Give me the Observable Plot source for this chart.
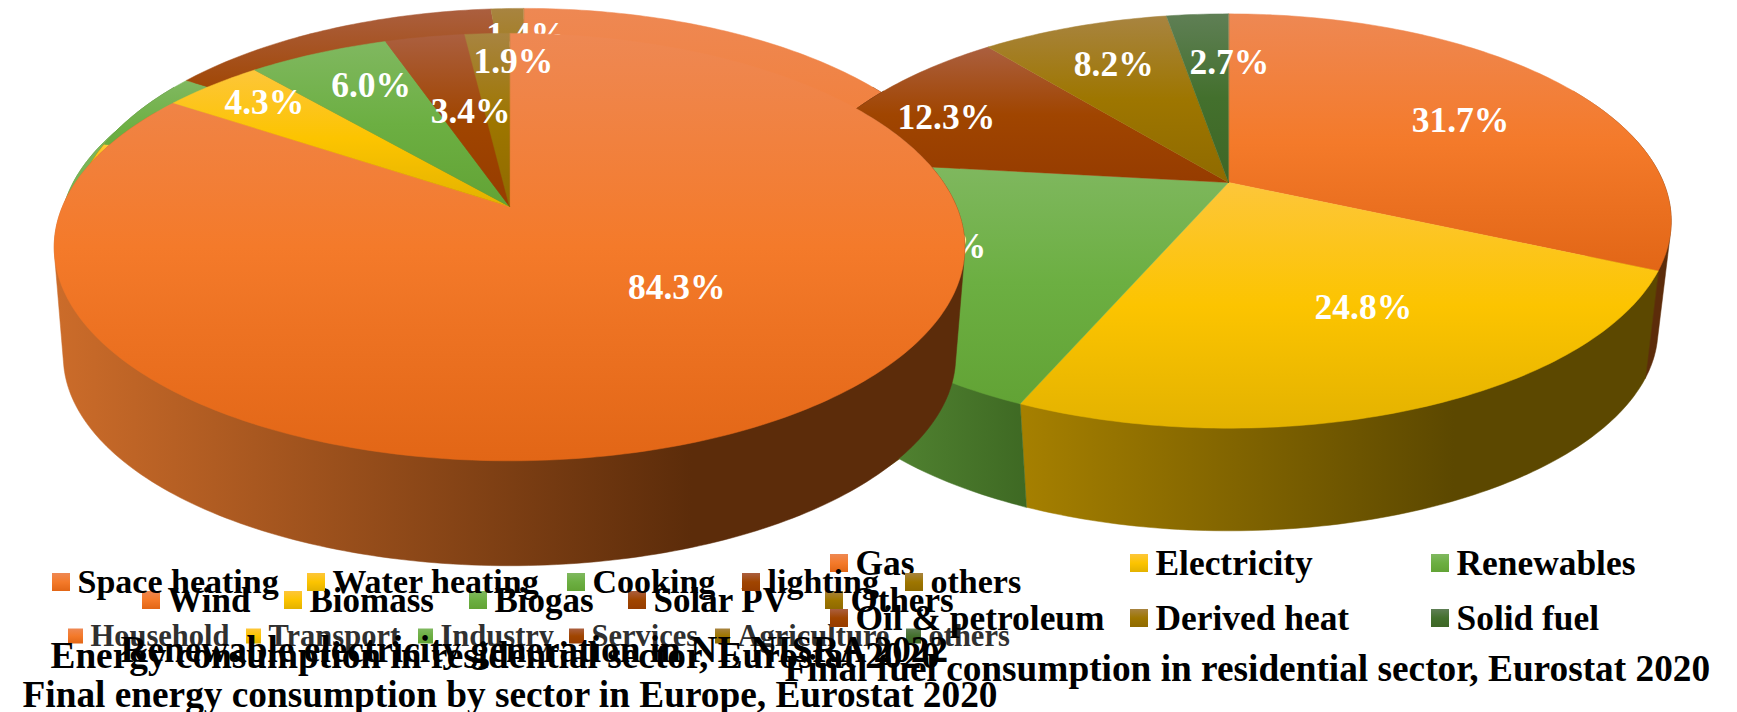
<!DOCTYPE html>
<html>
<head>
<meta charset="utf-8">
<style>html,body{margin:0;padding:0;background:#fff}svg{display:block}</style>
<script src="https://cdn.jsdelivr.net/npm/d3@7"></script>
<script src="https://cdn.jsdelivr.net/npm/@observablehq/plot@0.6"></script>
</head>
<body>
<div id="chart"></div>
<script>
// Shares (percent) per pie, clockwise from twelve o'clock
const sectorNames = ["Household", "Transport", "Industry", "Services", "Agriculture", "others"];
const sectorShares = [27.4, 28.4, 26.1, 13.9, 3.1, 1.1];
const renewableNames = ["Wind", "Biomass", "Biogas", "Solar PV", "Others"];
const renewableShares = [75.0, 3.0, 6.1, 14.5, 1.4];
const fuelNames = ["Gas", "Electricity", "Renewables", "Oil & petroleum", "Derived heat", "Solid fuel"];
const fuelShares = [31.7, 24.8, 20.3, 12.3, 8.2, 2.7];
const residentialNames = ["Space heating", "Water heating", "Cooking", "lighting", "others"];
const residentialShares = [84.3, 4.3, 6.0, 3.4, 1.9];

const sectorTitle = "Final energy consumption by sector in Europe, Eurostat 2020";
const renewableTitle = "Renewable electricity generation in NI, NISRA 2022";
const fuelTitle = "Final fuel consumption in residential sector, Eurostat 2020";
const residentialTitle = "Energy consumption in residential sector, Eurostat 2020";

// Slice fills: face gradient (tint, base, shade) and side gradient (light, dark, where dark is reached)
const faceTones = [
  ["#EE8853", "#F47A2A", "#E26616"],
  ["#FDC63A", "#FCC400", "#E3B200"],
  ["#80B860", "#6CAF42", "#62A335"],
  ["#AB5F3F", "#A04500", "#963C00"],
  ["#A88440", "#9E7600", "#8F6A00"],
  ["#5F7F55", "#43702D", "#3E6625"]
];
const sideTones = [
  ["#CC6C2A", "#5C2C0A", 0.7],
  ["#A68000", "#5C4800", 0.68],
  ["#5F963B", "#3E6923", 1],
  ["#8A4210", "#4E2206", 0.68],
  ["#806000", "#4A3800", 0.68],
  ["#3E6028", "#263C18", 0.68]
];

const FONT = "Liberation Serif";

// Perspective of each pie: apex, half axes, foreshortening, depth of the base ring
const pieViews = {
  sector: {cx: 520, cy: 192, A: 452, B: 206, k: 0.19, baseCy: 305, baseScale: 0.98},
  renewable: {cx: 523, cy: 181, A: 442, B: 206, k: 0.19, baseCy: 291, baseScale: 0.98},
  fuel: {cx: 1228, cy: 182, A: 435, B: 200, k: 0.186, baseCy: 292, baseScale: 0.97},
  residential: {cx: 509, cy: 206, A: 447, B: 206, k: 0.19, baseCy: 316, baseScale: 0.98}
};

// Value label placement: direction in degrees and fraction of the radius
const renewableLabelSpots = [null, null, null, null, [0.5, 0.82]];
const fuelLabelSpots = [[59.8, 0.655], [153.6, 0.625], [244.4, 0.70], [296.6, 0.772], [335.9, 0.726], [0.2, 0.676]];
const residentialLabelSpots = [[136.4, 0.505], [312.6, 0.824], [332.2, 0.747], [349.3, 0.514], [0.7, 0.813]];

function project(view, degrees, radius = 1, base = false) {
  const t = degrees * Math.PI / 180;
  const X = radius * Math.sin(t), Y = -radius * Math.cos(t);
  const w = 1 - view.k * Y;
  const s = base ? view.baseScale : 1;
  return {x: view.cx + s * view.A * X / w, y: (base ? view.baseCy : view.cy) + s * view.B * Y / w};
}

function arc(view, from, to, base = false) {
  const n = Math.max(2, Math.ceil(Math.abs(to - from)));
  return d3.range(n + 1).map(i => project(view, from + (to - from) * i / n, 1, base));
}

// The side of a slice is the convex outline of its rim arc and its base arc
function sideOutline(view, from, to) {
  const hull = d3.polygonHull([...arc(view, from, to), ...arc(view, from, to, true)].map(p => [p.x, p.y]));
  return hull.map(([x, y]) => ({x, y}));
}

function pieMarks(shares, view, spots, labelFont = 35.5) {
  const total = d3.sum(shares);
  let turn = 0;
  const slices = shares.map((share, i) => {
    const from = turn;
    turn += share / total * 360;
    return {share, i, from, to: turn};
  });
  const sides = [], faces = [];
  for (const s of slices) {
    const a = Math.max(s.from, 60), b = Math.min(s.to, 300);
    if (b > a) {
      sides.push(Plot.line(sideOutline(view, a, b), {
        x: "x", y: "y", curve: "linear-closed",
        fill: `url(#side-${s.i})`, stroke: `url(#side-${s.i})`, strokeWidth: 0.5
      }));
    }
  }
  for (const s of slices) {
    faces.push(Plot.line([{x: view.cx, y: view.cy}, ...arc(view, s.from, s.to)], {
      x: "x", y: "y", curve: "linear-closed",
      fill: `url(#face-${s.i})`, stroke: `url(#face-${s.i})`, strokeWidth: 0.5
    }));
  }
  const labelled = slices
    .filter(s => spots[s.i])
    .map(s => ({...project(view, spots[s.i][0], spots[s.i][1]), text: `${s.share.toFixed(1)}%`}));
  return [
    ...sides, ...faces,
    Plot.text(labelled, {
      x: "x", y: "y", text: "text", fill: "white", fontSize: labelFont,
      fontWeight: "bold", fontFamily: FONT, textAnchor: "middle", lineAnchor: "middle"
    })
  ];
}

function legendMarks(names, swatchXs, rows, fontSize, swatch, color = "black") {
  return names.flatMap((name, i) => [
    Plot.rect([{x1: swatchXs[i], x2: swatchXs[i] + swatch, y1: rows[i] - swatch / 2, y2: rows[i] + swatch / 2}], {
      x1: "x1", x2: "x2", y1: "y1", y2: "y2", fill: `url(#face-${i})`, inset: 0
    }),
    Plot.text([{x: swatchXs[i] + swatch + 7, y: rows[i], name}], {
      x: "x", y: "y", text: "name", fill: color, fontSize, fontWeight: "bold",
      fontFamily: FONT, textAnchor: "start", lineAnchor: "middle"
    })
  ]);
}

function titleMark(text, x, y, fontSize) {
  return Plot.text([{x, y, text}], {
    x: "x", y: "y", text: "text", fill: "black", fontSize, fontWeight: "bold",
    fontFamily: FONT, textAnchor: "start", lineAnchor: "middle"
  });
}

function gradients() {
  const defs = d3.create("svg:defs");
  faceTones.forEach((tones, i) => {
    const g = defs.append("linearGradient").attr("id", `face-${i}`)
      .attr("x1", 0).attr("x2", 0).attr("y1", 0).attr("y2", 1);
    [0, 0.5, 1].forEach((o, j) => g.append("stop").attr("offset", o).attr("stop-color", tones[j]));
  });
  sideTones.forEach((tones, i) => {
    const g = defs.append("linearGradient").attr("id", `side-${i}`)
      .attr("x1", 0).attr("x2", 1).attr("y1", 0).attr("y2", 0);
    g.append("stop").attr("offset", 0).attr("stop-color", tones[0]);
    g.append("stop").attr("offset", tones[2]).attr("stop-color", tones[1]);
    g.append("stop").attr("offset", 1).attr("stop-color", tones[1]);
  });
  return defs.node();
}

const chart = Plot.plot({
  width: 1737,
  height: 712,
  margin: 0,
  x: {domain: [0, 1737], range: [0, 1737], axis: null},
  y: {domain: [0, 712], range: [0, 712], axis: null},
  style: {background: "white"},
  marks: [
    gradients,
    pieMarks(sectorShares, pieViews.sector, sectorNames.map(() => null)),
    legendMarks(sectorNames, [68, 246, 418, 569, 715, 906], sectorNames.map(() => 636), 30.5, 15, "#303030"),
    pieMarks(renewableShares, pieViews.renewable, renewableLabelSpots),
    legendMarks(renewableNames, [142, 284, 469, 628, 825], renewableNames.map(() => 600), 35, 18),
    pieMarks(fuelShares, pieViews.fuel, fuelLabelSpots),
    legendMarks(fuelNames, [830, 1130, 1431, 830, 1130, 1431], [563, 563, 563, 618, 618, 618], 35.4, 18),
    pieMarks(residentialShares, pieViews.residential, residentialLabelSpots),
    legendMarks(residentialNames, [52, 307, 567, 742, 905], residentialNames.map(() => 582), 34, 18),
    titleMark(renewableTitle, 120, 650, 37.3),
    titleMark(residentialTitle, 50, 656, 37.3),
    titleMark(fuelTitle, 784, 669, 37.3),
    titleMark(sectorTitle, 22, 695, 37.3)
  ]
});
document.getElementById("chart").appendChild(chart);
</script>
</body>
</html>
